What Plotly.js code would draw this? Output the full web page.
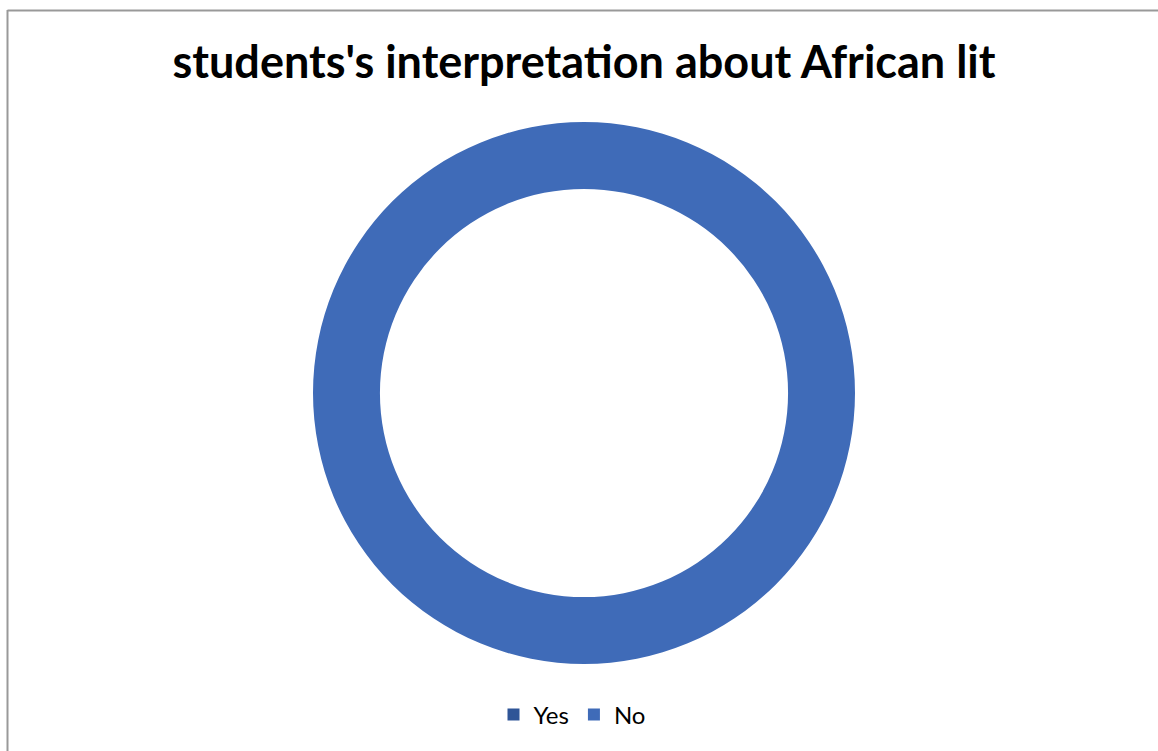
<!DOCTYPE html>
<html>
<head>
<meta charset="utf-8">
<script src="https://cdn.plot.ly/plotly-3.0.1.min.js"></script>
<style>html,body{margin:0;padding:0;background:#fff;}#chart{width:1158px;height:751px;}</style>
</head>
<body>
<div id="chart"></div>
<script>
const categories = ['Yes', 'No'];
const counts = [0, 40];
const sliceColors = ['#2F5597', '#3F6BB8'];
const chartTitle = "students's interpretation about African lit";

const W = 1158, H = 751;
const cx = 584, cy = 393, R = 271;

const data = [{
  type: 'pie',
  labels: categories,
  values: counts,
  hole: 0.753,
  sort: false,
  direction: 'clockwise',
  rotation: 0,
  textinfo: 'none',
  hoverinfo: 'label+value+percent',
  marker: {colors: sliceColors, line: {width: 0}},
  domain: {x: [(cx - R) / W, (cx + R) / W], y: [1 - (cy + R) / H, 1 - (cy - R) / H]},
  showlegend: true
}];

const layout = {
  width: W, height: H,
  margin: {l: 0, r: 0, t: 0, b: 0},
  paper_bgcolor: '#ffffff',
  title: {
    text: '<b>' + chartTitle + '</b>',
    font: {family: 'Lato, "Open Sans", sans-serif', size: 45, color: '#000000'},
    x: 584 / W, xanchor: 'center', y: 1 - 62 / H, yanchor: 'middle', xref: 'paper', yref: 'paper'
  },
  legend: {
    orientation: 'h', x: 572 / W, xanchor: 'center', y: 1 - 715 / H, yanchor: 'middle',
    font: {family: 'Lato, "Open Sans", sans-serif', size: 24, color: '#000000'},
    itemwidth: 30, traceorder: 'normal'
  },
  shapes: [
    {type: 'line', xref: 'paper', yref: 'paper', x0: 7.5 / W, x1: 1, y0: 1 - 10.5 / H, y1: 1 - 10.5 / H, line: {color: '#999999', width: 2}},
    {type: 'line', xref: 'paper', yref: 'paper', x0: 7.5 / W, x1: 7.5 / W, y0: 1 - 10 / H, y1: 0, line: {color: '#999999', width: 2}}
  ]
};

Plotly.newPlot('chart', data, layout, {displayModeBar: false});
</script>
</body>
</html>
